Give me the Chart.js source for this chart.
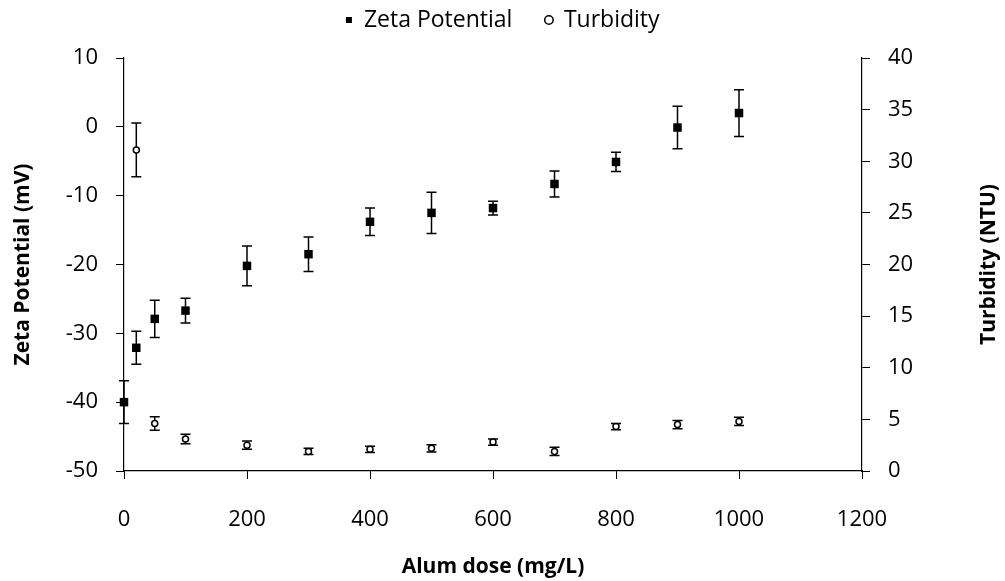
<!DOCTYPE html>
<html lang="en">
<head>
    <meta charset="UTF-8">
    <title>Zeta Potential and Turbidity vs Alum dose</title>
    <script src="https://cdn.jsdelivr.net/npm/chart.js"></script>
    <style>
        body {
            margin: 0;
            background: #fff;
        }
        #wrap {
            width: 1005px;
            height: 581px;
        }
    </style>
</head>
<body>
    <div id="wrap"><canvas id="chart" width="1005" height="581"></canvas></div>

    <script>
        // data
        const zetaDose = [0, 20, 50, 100, 200, 300, 400, 500, 600, 700, 800, 900, 1000];
        const zetaValues = [-40.0, -32.1, -27.9, -26.7, -20.2, -18.5, -13.8, -12.5, -11.8, -8.3, -5.1, -0.1, 2.0];
        const zetaErrors = [3.1, 2.4, 2.7, 1.8, 2.9, 2.5, 2.0, 3.0, 1.0, 1.9, 1.4, 3.1, 3.4];

        const turbDose = [20, 50, 100, 200, 300, 400, 500, 600, 700, 800, 900, 1000];
        const turbValues = [31.1, 4.6, 3.1, 2.5, 1.9, 2.1, 2.2, 2.8, 1.9, 4.3, 4.5, 4.8];
        const turbErrors = [2.6, 0.65, 0.45, 0.4, 0.3, 0.3, 0.35, 0.3, 0.4, 0.3, 0.4, 0.4];

        const FONT = "'Open Sans', 'Noto Sans', sans-serif";
        const TITLE_FONT = { family: FONT, size: 21, weight: 'bold', lineHeight: 1.2 };
        const TICK_FONT = { family: FONT, size: 22 };
        const RIGHT_TITLE = 'Turbidity (NTU)';

        // vertical error bars with caps, drawn under the markers
        const errorBars = {
            id: 'errorBars',
            beforeDatasetsDraw(chart) {
                const ctx = chart.ctx;
                const xScale = chart.scales.x;
                chart.data.datasets.forEach(ds => {
                    if (!ds.errors) return;
                    const yScale = chart.scales[ds.yAxisID];
                    ctx.save();
                    ctx.strokeStyle = '#000';
                    ctx.lineWidth = 1.5;
                    ds.data.forEach((pt, j) => {
                        const e = ds.errors[j];
                        const x = xScale.getPixelForValue(pt.x);
                        const yTop = yScale.getPixelForValue(pt.y + e);
                        const yBot = yScale.getPixelForValue(pt.y - e);
                        ctx.beginPath();
                        ctx.moveTo(x, yTop);
                        ctx.lineTo(x, yBot);
                        ctx.moveTo(x - 5, yTop);
                        ctx.lineTo(x + 5, yTop);
                        ctx.moveTo(x - 5, yBot);
                        ctx.lineTo(x + 5, yBot);
                        ctx.stroke();
                    });
                    ctx.restore();
                });
            }
        };

        // legend sits in a fixed band above the plot
        const legendBand = {
            id: 'legendBand',
            beforeLayout(chart) {
                const lg = chart.legend;
                if (lg && !lg._banded) {
                    const fit = lg.fit;
                    lg.fit = function () {
                        fit.call(this);
                        this.height = 82.5;
                    };
                    lg._banded = true;
                }
            }
        };

        // right axis title reads bottom-to-top like the left one
        const rightTitle = {
            id: 'rightTitle',
            afterDraw(chart) {
                const s = chart.scales.y1;
                const area = chart.chartArea;
                const ctx = chart.ctx;
                ctx.save();
                ctx.translate(s.right - 16, (area.top + area.bottom) / 2);
                ctx.rotate(-Math.PI / 2);
                ctx.font = `bold ${TITLE_FONT.size}px ${FONT}`;
                ctx.fillStyle = '#000';
                ctx.textAlign = 'center';
                ctx.textBaseline = 'middle';
                ctx.fillText(RIGHT_TITLE, 0, 0);
                ctx.restore();
            }
        };

        const zetaData = zetaDose.map((d, i) => ({ x: d, y: zetaValues[i] }));
        const turbData = turbDose.map((d, i) => ({ x: d, y: turbValues[i] }));

        const ctx = document.getElementById('chart').getContext('2d');
        new Chart(ctx, {
            type: 'scatter',
            data: {
                datasets: [
                    {
                        label: 'Zeta Potential',
                        data: zetaData,
                        errors: zetaErrors,
                        yAxisID: 'y',
                        pointStyle: 'rect',
                        pointRadius: 6,
                        pointHoverRadius: 6,
                        backgroundColor: '#000',
                        borderColor: '#000',
                        borderWidth: 0,
                        clip: false
                    },
                    {
                        label: 'Turbidity',
                        data: turbData,
                        errors: turbErrors,
                        yAxisID: 'y1',
                        pointStyle: 'circle',
                        pointRadius: 3,
                        pointHoverRadius: 3,
                        backgroundColor: '#fff',
                        borderColor: '#000',
                        borderWidth: 1.5,
                        clip: false
                    }
                ]
            },
            options: {
                responsive: false,
                animation: false,
                layout: {
                    padding: { top: -24.5, left: 0, right: 0, bottom: 0 }
                },
                plugins: {
                    tooltip: { enabled: false },
                    legend: {
                        position: 'top',
                        labels: {
                            usePointStyle: true,
                            boxWidth: 7,
                            boxHeight: 6,
                            padding: 33,
                            color: '#000',
                            font: { family: FONT, size: 23 }
                        }
                    }
                },
                scales: {
                    x: {
                        type: 'linear',
                        min: 0,
                        max: 1200,
                        afterFit: s => { s.height = 110; },
                        ticks: {
                            stepSize: 200,
                            color: '#000',
                            padding: 28,
                            font: TICK_FONT,
                            callback: v => String(v)
                        },
                        grid: {
                            drawOnChartArea: false,
                            color: '#000',
                            tickLength: 8
                        },
                        border: { color: '#000', width: 1.2 },
                        title: {
                            display: true,
                            text: 'Alum dose (mg/L)',
                            color: '#000',
                            font: TITLE_FONT,
                            padding: { top: 0, bottom: 1.4 }
                        }
                    },
                    y: {
                        position: 'left',
                        min: -50,
                        max: 10,
                        afterFit: s => { s.width = 124; },
                        ticks: {
                            stepSize: 10,
                            color: '#000',
                            padding: 18,
                            font: TICK_FONT
                        },
                        grid: {
                            drawOnChartArea: false,
                            color: '#000',
                            tickLength: 8
                        },
                        border: { color: '#000', width: 1.2 },
                        title: {
                            display: true,
                            text: 'Zeta Potential (mV)',
                            color: '#000',
                            font: TITLE_FONT,
                            padding: { top: 10.4, bottom: 0 }
                        }
                    },
                    y1: {
                        position: 'right',
                        min: 0,
                        max: 40,
                        afterFit: s => { s.width = 143; },
                        ticks: {
                            stepSize: 5,
                            color: '#000',
                            padding: 18,
                            font: TICK_FONT
                        },
                        grid: {
                            drawOnChartArea: false,
                            color: '#000',
                            tickLength: 8
                        },
                        border: { color: '#000', width: 1.2 }
                    }
                }
            },
            plugins: [errorBars, legendBand, rightTitle]
        });
    </script>
</body>
</html>
